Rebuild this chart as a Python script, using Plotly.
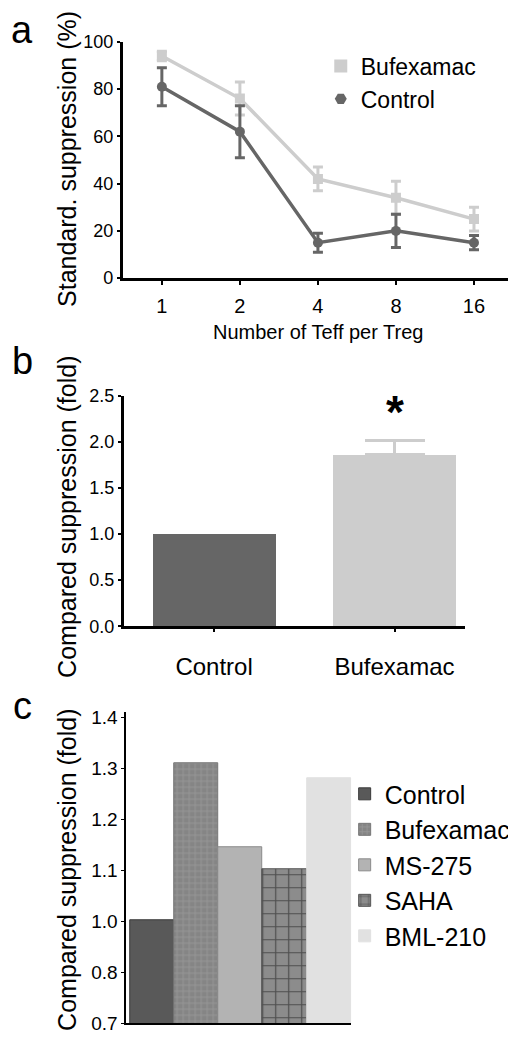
import plotly.graph_objects as go

# ---------------- data ----------------
# panel a
ratio_labels = ["1", "2", "4", "8", "16"]
bufexamac_a = [94, 76, 42, 34, 25]
bufexamac_a_err = [2, 7, 5, 7, 5]
control_a = [81, 62, 15, 20, 15]
control_a_err = [8, 11, 4, 7, 3]

# panel b
groups_b = ["Control", "Bufexamac"]
values_b = [1.0, 1.86]
errors_b = [0.0, 0.15]

# panel c
drugs_c = ["Control", "Bufexamac", "MS-275", "SAHA", "BML-210"]
values_c = [1.003, 1.31, 1.146, 1.102, 1.28]
ytick_vals_c = [0.8, 0.9, 1.0, 1.1, 1.2, 1.3, 1.4]
ytick_text_c = ["0.7", "0.8", "1.0", "1.1", "1.2", "1.3", "1.4"]

# page has an 8px body margin -> figure drawn at (8, 8)
OFF = 8
W, H = 516 - OFF, 1038 - OFF
FONT = "Arial, Liberation Sans, sans-serif"
LIGHT = "#cdcdcd"
DARK = "#666666"

def px(x):
    return (x - OFF) / W

def py(y):
    return 1 - (y - OFF) / H

def xd(a, b):
    return [px(a), min(1, px(b))]

def yd(top, bottom):
    return [max(0, py(bottom)), py(top)]

fig = go.Figure()

# ---------- panel a ----------
fig.add_trace(go.Scatter(
    x=ratio_labels, y=bufexamac_a, mode="lines+markers", name="Bufexamac",
    line=dict(color=LIGHT, width=3.5), marker=dict(color=LIGHT, size=10, symbol="square"),
    error_y=dict(type="data", array=bufexamac_a_err, color=LIGHT, thickness=3, width=5),
    xaxis="x", yaxis="y", showlegend=False))
fig.add_trace(go.Scatter(
    x=ratio_labels, y=control_a, mode="lines+markers", name="Control",
    line=dict(color=DARK, width=3.5), marker=dict(color=DARK, size=10, symbol="circle"),
    error_y=dict(type="data", array=control_a_err, color=DARK, thickness=3, width=5),
    xaxis="x", yaxis="y", showlegend=False))
# legend entries (marker only, as in the original)
fig.add_trace(go.Scatter(x=[None], y=[None], mode="markers", name="Bufexamac",
                         marker=dict(color=LIGHT, size=13, symbol="square"),
                         xaxis="x", yaxis="y", legend="legend"))
fig.add_trace(go.Scatter(x=[None], y=[None], mode="markers", name="Control",
                         marker=dict(color=DARK, size=12, symbol="hexagon2"),
                         xaxis="x", yaxis="y", legend="legend"))

# ---------- panel b ----------
b_colors = [DARK, LIGHT]
for i in range(len(groups_b)):
    fig.add_trace(go.Bar(
        x=[groups_b[i]], y=[values_b[i]], width=0.68,
        marker=dict(color=b_colors[i], line=dict(width=0)),
        error_y=dict(type="data", array=[errors_b[i]], arrayminus=[0], symmetric=False,
                     color=LIGHT, thickness=3, width=30, visible=errors_b[i] > 0),
        xaxis="x2", yaxis="y2", showlegend=False))

# ---------- panel c ----------
c_styles = [
    dict(color="#595959", line=dict(color="#3a3a3a", width=1)),
    dict(color="#888888", line=dict(color="#777777", width=1),
         pattern=dict(shape="+", size=6, solidity=0.3, fgcolor="#a8a8a8", bgcolor="#858585")),
    dict(color="#b3b3b3", line=dict(color="#8a8a8a", width=1)),
    dict(color="#8c8c8c", line=dict(color="#555555", width=1),
         pattern=dict(shape="+", size=13, solidity=0.18, fgcolor="#111111", bgcolor="#8c8c8c")),
    dict(color="#e1e1e1", line=dict(color="#e1e1e1", width=1)),
]
for i, (name, val) in enumerate(zip(drugs_c, values_c)):
    fig.add_trace(go.Bar(
        x=[i], y=[val], name=name, marker=c_styles[i], width=1,
        xaxis="x3", yaxis="y3", legend="legend2", legendgroup=name, showlegend=True))

def ax(**kw):
    base = dict(showgrid=False, zeroline=False, showline=True, linecolor="black",
                ticks="outside", tickcolor="black", color="black")
    base.update(kw)
    return base

fig.update_layout(
    width=W, height=H, margin=dict(l=0, r=0, t=0, b=0),
    plot_bgcolor="white", paper_bgcolor="white",
    font=dict(family=FONT, color="black"),
    barmode="overlay", bargap=0,
    xaxis=ax(domain=xd(123.3, 515), anchor="y", type="category",
             range=[-0.5, 4.5], linewidth=3, ticklen=4, tickwidth=2,
             ticklabelstandoff=4, tickfont=dict(family=FONT, size=20, color="black")),
    yaxis=ax(domain=yd(32.3, 273.3), anchor="x", range=[0, 100],
             dtick=20, linewidth=3, ticklen=3, tickwidth=2,
             tickfont=dict(family=FONT, size=18, color="black")),
    xaxis2=ax(domain=xd(124.3, 466.7), anchor="y2", type="category",
              range=[-0.5, 1.39], linewidth=3, ticklen=3, tickwidth=2,
              ticklabelstandoff=14, tickfont=dict(family=FONT, size=24, color="black")),
    yaxis2=ax(domain=yd(393.3, 628.3), anchor="x2", range=[0, 2.5],
              dtick=0.5, tickformat=".1f", linewidth=3, ticklen=3, tickwidth=2,
              tickfont=dict(family=FONT, size=18, color="black")),
    xaxis3=ax(domain=xd(126.7, 352.7), anchor="y3", range=[-0.59, 4.51],
              linewidth=2, ticks="", showticklabels=False),
    yaxis3=ax(domain=yd(716, 1033.3), anchor="x3", range=[0.8, 1.41],
              tickvals=ytick_vals_c, ticktext=ytick_text_c, linewidth=1.5,
              ticklen=3, tickwidth=1, tickfont=dict(family=FONT, size=19, color="black")),
    legend=dict(x=px(322), y=py(35), xanchor="left", yanchor="top",
                font=dict(family=FONT, size=23, color="black"),
                bgcolor="rgba(0,0,0,0)", borderwidth=0),
    legend2=dict(x=px(346), y=py(776), xanchor="left", yanchor="top",
                 font=dict(family=FONT, size=25, color="black"),
                 bgcolor="rgba(0,0,0,0)", borderwidth=0, tracegroupgap=0),
)

ann = []
def title(text, yc):
    ann.append(dict(text=text, x=px(67), y=py(yc), xref="paper", yref="paper",
                    textangle=-90, showarrow=False, xanchor="center", yanchor="middle",
                    font=dict(family=FONT, size=25, color="black")))
title("Standard. suppression (%)", 152)
title("Compared suppression (fold)", 517)
title("Compared suppression (fold)", 877)
ann.append(dict(text="Number of Teff per Treg", x=px((123.3 + 515) / 2), y=py(328),
                xref="paper", yref="paper", showarrow=False, xanchor="center",
                yanchor="middle", font=dict(family=FONT, size=20, color="black")))
for letter, xx, yy in [("a", 22, 20), ("b", 23, 358), ("c", 23, 710)]:
    ann.append(dict(text=letter, x=px(xx), y=py(yy), xref="paper", yref="paper",
                    showarrow=False, xanchor="center", yanchor="middle",
                    font=dict(family=FONT, size=38, color="black")))
ann.append(dict(text="<b>*</b>", x="Bufexamac", y=2.0, xref="x2", yref="y2",
                showarrow=False, xanchor="center", yanchor="bottom", yshift=2,
                font=dict(family=FONT, size=46, color="black")))
fig.update_layout(annotations=ann)

fig.write_html("out.html")
